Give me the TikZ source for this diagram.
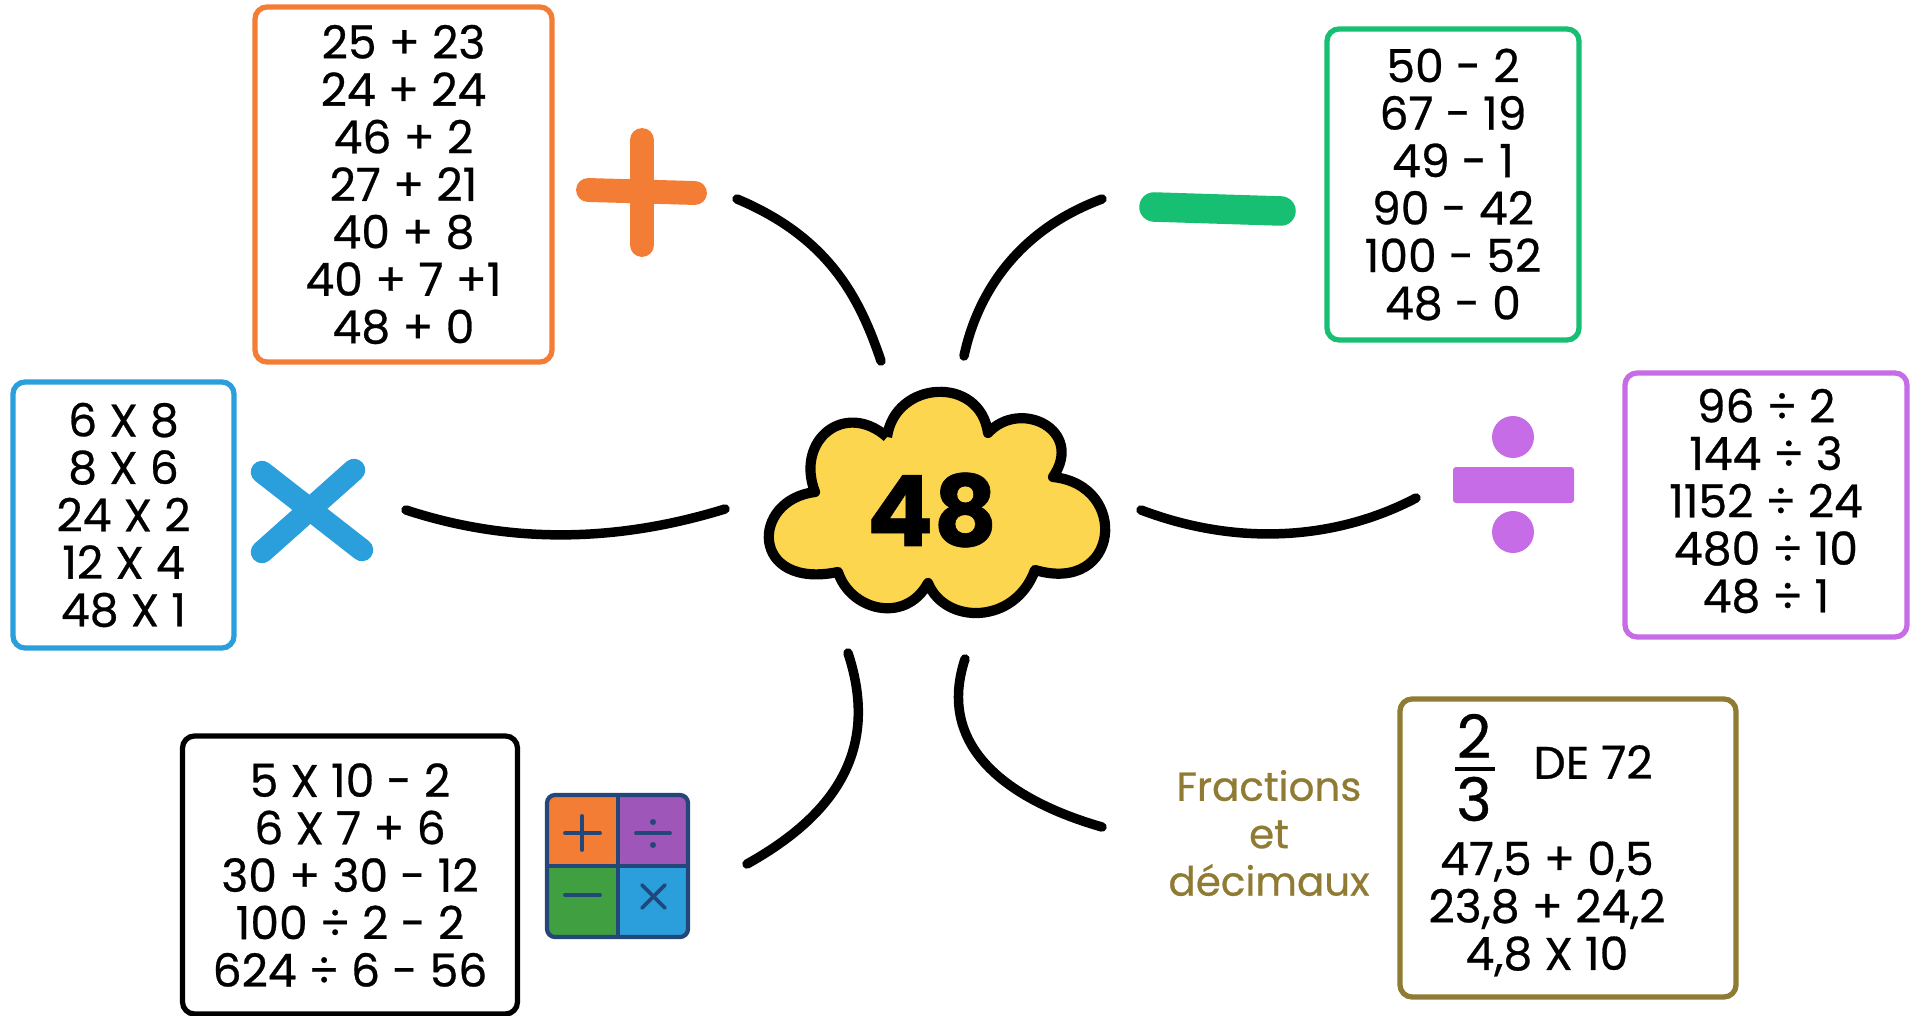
\documentclass[tikz,border=0pt]{standalone}
\usepackage{fontspec}
\setmainfont{Poppins}[FakeBold=0.6]
\definecolor{addcol}{HTML}{F47D36}
\definecolor{subcol}{HTML}{17BF72}
\definecolor{mulcol}{HTML}{2A9FDC}
\definecolor{divcol}{HTML}{C66CE6}
\definecolor{fraccol}{HTML}{8F7B33}
\definecolor{cloudcol}{HTML}{FCD64E}
\definecolor{iconcol}{HTML}{24477A}
\tikzset{
  mathbox/.style={draw=#1, line width=1.5pt, rounded corners=0.12cm, align=center, inner sep=0pt, font=\fontsize{13}{13.5}\selectfont},
  mathtext/.style={align=center, inner sep=0pt, font=\fontsize{13}{13.5}\selectfont},
  branch/.style={line width=2.7pt, line cap=round},
  iconmark/.style={draw=iconcol, line width=1.1pt, line cap=round}
}
\begin{document}
\begin{tikzpicture}[y=-1cm]
    \useasboundingbox (0,0) rectangle (19.13,10.16);
    % cloud
    \draw [fill=cloudcol, line width=2.9pt, line join=round] (8.87,4.37)
      .. controls (8.95,3.8) and (9.8,3.75) .. (9.88,4.33)
      .. controls (10.2,3.98) and (10.85,4.3) .. (10.53,4.77)
      .. controls (11.3,4.85) and (11.2,5.95) .. (10.35,5.70)
      .. controls (10.15,6.25) and (9.45,6.25) .. (9.28,5.83)
      .. controls (9.05,6.25) and (8.5,6.1) .. (8.38,5.72)
      .. controls (7.50,5.90) and (7.50,5.0) .. (8.15,4.92)
      .. controls (7.95,4.4) and (8.45,4.0) .. (8.87,4.37);
    \node [inner sep=0pt, font=\fontsize{28}{28}\selectfont\bfseries] (center) at (9.32,5.10) {48};
    % branch ends
    \coordinate (addfar) at (7.37,1.99);
    \coordinate (addnear) at (8.81,3.61);
    \coordinate (subfar) at (11.02,1.99);
    \coordinate (subnear) at (9.64,3.56);
    \coordinate (mulfar) at (4.06,5.10);
    \coordinate (mulnear) at (7.25,5.09);
    \coordinate (divnear) at (11.41,5.10);
    \coordinate (divfar) at (14.16,4.98);
    \coordinate (mixnear) at (8.48,6.53);
    \coordinate (mixfar) at (7.47,8.64);
    \coordinate (fracnear) at (9.65,6.59);
    \coordinate (fracfar) at (11.02,8.27);
    \draw [branch] (addfar) .. controls (8.30,2.38) and (8.60,2.99) .. (addnear);
    \draw [branch] (subfar) .. controls (10.13,2.32) and (9.76,2.99) .. (subnear);
    \draw [branch] (mulfar) .. controls (5.25,5.49) and (6.34,5.37) .. (mulnear);
    \draw [branch] (divnear) .. controls (12.44,5.49) and (13.42,5.37) .. (divfar);
    \draw [branch] (mixnear) .. controls (8.78,7.44) and (8.42,8.11) .. (mixfar);
    \draw [branch] (fracnear) .. controls (9.33,7.56) and (10.25,8.05) .. (fracfar);
    % plus
    \draw [addcol, line width=6.8pt, line cap=round] (5.88,1.90)--(6.95,1.93);
    \draw [addcol, line width=6.8pt, line cap=round] (6.42,1.40)--(6.42,2.45);
    \node [mathbox=addcol, minimum width=2.97cm, minimum height=3.55cm] (addbox) at (4.035,1.845)
      {25 + 23\\24 + 24\\46 + 2\\27 + 21\\40 + 8\\40 + 7 +1\\48 + 0};
    % minus
    \draw [subcol, line width=8.4pt, line cap=round] (11.54,2.07)--(12.81,2.11);
    \node [mathbox=subcol, minimum width=2.52cm, minimum height=3.11cm] (subbox) at (14.53,1.845)
      {50 - 2\\67 - 19\\49 - 1\\90 - 42\\100 - 52\\48 - 0};
    % times
    \draw [mulcol, line width=6.4pt, line cap=round] (2.62,4.72)--(3.62,5.50);
    \draw [mulcol, line width=6.4pt, line cap=round] (3.54,4.70)--(2.62,5.52);
    \node [mathbox=mulcol, minimum width=2.21cm, minimum height=2.66cm] (mulbox) at (1.235,5.15)
      {6 X 8\\8 X 6\\24 X 2\\12 X 4\\48 X 1};
    % divide
    \fill [divcol] (15.13,4.37) circle (0.21);
    \fill [divcol] (15.13,5.32) circle (0.21);
    \fill [divcol, rounded corners=0.03cm] (14.53,4.67) rectangle (15.74,5.03);
    \node [mathbox=divcol, minimum width=2.82cm, minimum height=2.64cm] (divbox) at (17.66,5.05) {};
    \node [mathtext] (divlines) at (17.66,5.01)
      {96 ÷ 2\\144 ÷ 3\\1152 ÷ 24\\480 ÷ 10\\48 ÷ 1};
    % mixed operations
    \node [mathbox=black, minimum width=3.35cm, minimum height=2.78cm] (mixbox) at (3.50,8.75)
      {5 X 10 - 2\\6 X 7 + 6\\30 + 30 - 12\\100 ÷ 2 - 2\\624 ÷ 6 - 56};
    \fill [addcol, rounded corners=0.08cm] (5.47,7.95) rectangle (6.18,8.66);
    \fill [divcol!80!black, rounded corners=0.08cm] (6.18,7.95) rectangle (6.88,8.66);
    \fill [green!50!black!75!white, rounded corners=0.08cm] (5.47,8.66) rectangle (6.18,9.37);
    \fill [mulcol, rounded corners=0.08cm] (6.18,8.66) rectangle (6.88,9.37);
    \draw [iconcol, line width=1.2pt, rounded corners=0.08cm] (5.47,7.95) rectangle (6.88,9.37);
    \draw [iconcol, line width=1.2pt] (6.18,7.95)--(6.18,9.37);
    \draw [iconcol, line width=1.2pt] (5.47,8.66)--(6.88,8.66);
    \draw [iconmark] (5.65,8.33)--(6.00,8.33);
    \draw [iconmark] (5.82,8.16)--(5.82,8.50);
    \draw [iconmark] (6.36,8.33)--(6.70,8.33);
    \fill [iconcol] (6.53,8.22) circle (0.03);
    \fill [iconcol] (6.53,8.45) circle (0.03);
    \draw [iconmark] (5.65,8.95)--(6.00,8.95);
    \draw [iconmark] (6.42,8.85)--(6.65,9.08);
    \draw [iconmark] (6.65,8.85)--(6.42,9.08);
    % fractions
    \node [mathtext, text=fraccol, font=\fontsize{11.5}{13.5}\selectfont] (fraclabel) at (12.69,8.33) {Fractions\\et\\décimaux};
    \node [mathbox=fraccol, minimum width=3.36cm, minimum height=2.98cm] (fracbox) at (15.68,8.48) {};
    \node [inner sep=0pt, font=\fontsize{17}{17}\selectfont] (fracnum) at (14.74,7.36) {2};
    \node [inner sep=0pt, font=\fontsize{17}{17}\selectfont] (fracden) at (14.74,7.99) {3};
    \coordinate (barleft) at (14.55,7.69);
    \coordinate (barright) at (14.95,7.69);
    \draw [line width=1.2pt] (barleft)--(barright);
    \node [mathtext] (fracof) at (15.93,7.62) {DE 72};
    \node [mathtext] (fracsums) at (15.47,9.09) {47,5 + 0,5\\23,8 + 24,2\\4,8 X 10};
\end{tikzpicture}
\end{document}
